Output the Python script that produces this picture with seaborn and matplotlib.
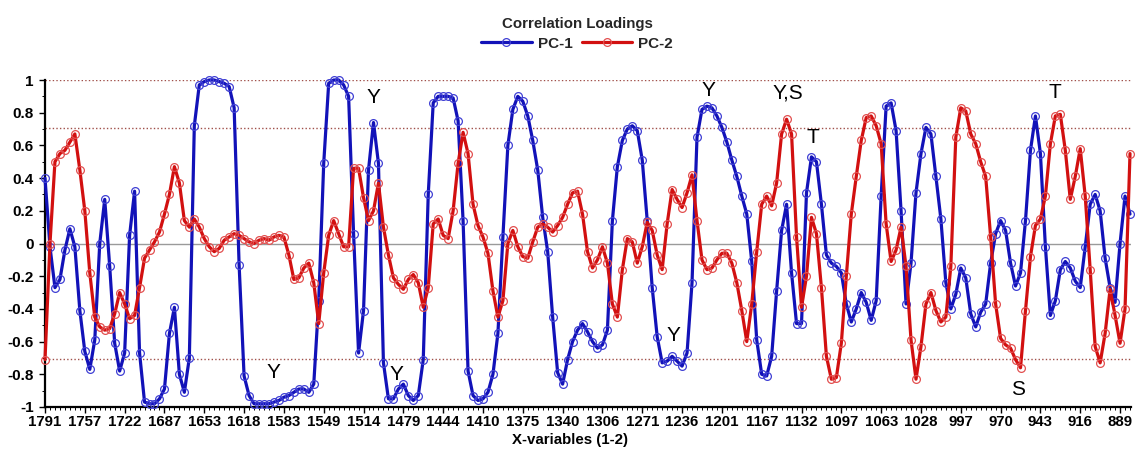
import numpy as np
import pandas as pd
import matplotlib
matplotlib.use("Agg")
import matplotlib.pyplot as plt
from matplotlib.ticker import MultipleLocator
import seaborn as sns

# ---------------- data ----------------
tick_labels = ["1791", "1757", "1722", "1687", "1653", "1618", "1583", "1549",
               "1514", "1479", "1444", "1410", "1375", "1340", "1306", "1271",
               "1236", "1201", "1167", "1132", "1097", "1063", "1028", "997",
               "970", "943", "916", "889"]
y_tick_values = [-1, -0.8, -0.6, -0.4, -0.2, 0, 0.2, 0.4, 0.6, 0.8, 1]
y_tick_labels = ["-1", "-0.8", "-0.6", "-0.4", "-0.2", "0", "0.2", "0.4", "0.6", "0.8", "1"]

pc1 = [0.40, -0.02, -0.27, -0.22, -0.04, 0.09, -0.02, -0.41, -0.66, -0.77,
       -0.59, 0.00, 0.27, -0.14, -0.61, -0.78, -0.67, 0.05, 0.32, -0.67,
       -0.97, -0.98, -0.98, -0.95, -0.89, -0.55, -0.39, -0.80, -0.91, -0.70,
       0.72, 0.97, 0.99, 1.00, 1.00, 0.99, 0.98, 0.96, 0.83, -0.13,
       -0.81, -0.93, -0.98, -0.98, -0.98, -0.98, -0.97, -0.96, -0.94, -0.93,
       -0.91, -0.89, -0.89, -0.91, -0.86, -0.35, 0.49, 0.98, 1.00, 1.00,
       0.97, 0.90, 0.06, -0.67, -0.41, 0.45, 0.74, 0.49, -0.73, -0.95,
       -0.95, -0.89, -0.86, -0.93, -0.96, -0.93, -0.71, 0.30, 0.86, 0.90,
       0.90, 0.90, 0.89, 0.75, 0.14, -0.78, -0.93, -0.96, -0.95, -0.91,
       -0.80, -0.55, 0.04, 0.60, 0.82, 0.90, 0.87, 0.78, 0.63, 0.45,
       0.16, -0.05, -0.45, -0.79, -0.86, -0.71, -0.60, -0.53, -0.49, -0.54,
       -0.60, -0.64, -0.62, -0.53, 0.14, 0.47, 0.63, 0.70, 0.72, 0.69,
       0.51, 0.14, -0.27, -0.57, -0.73, -0.72, -0.69, -0.72, -0.75, -0.67,
       -0.24, 0.65, 0.82, 0.84, 0.83, 0.78, 0.71, 0.62, 0.51, 0.41,
       0.29, 0.18, -0.11, -0.59, -0.80, -0.81, -0.69, -0.29, 0.08, 0.24,
       -0.18, -0.49, -0.49, 0.31, 0.53, 0.50, 0.24, -0.07, -0.12, -0.14,
       -0.18, -0.37, -0.48, -0.40, -0.30, -0.36, -0.47, -0.35, 0.29, 0.84,
       0.86, 0.69, 0.20, -0.37, -0.12, 0.31, 0.55, 0.71, 0.67, 0.41,
       0.15, -0.24, -0.40, -0.31, -0.15, -0.21, -0.43, -0.51, -0.42, -0.37,
       -0.12, 0.06, 0.14, 0.08, -0.12, -0.26, -0.18, 0.14, 0.57, 0.78,
       0.55, -0.02, -0.44, -0.35, -0.16, -0.11, -0.15, -0.23, -0.27, -0.02,
       0.24, 0.30, 0.20, -0.09, -0.27, -0.36, 0.00, 0.29, 0.18]

pc2 = [-0.71, 0.00, 0.50, 0.55, 0.57, 0.62, 0.67, 0.45, 0.20, -0.18,
       -0.45, -0.51, -0.53, -0.52, -0.43, -0.30, -0.37, -0.46, -0.44, -0.27,
       -0.09, -0.04, 0.01, 0.07, 0.18, 0.30, 0.47, 0.37, 0.14, 0.10,
       0.15, 0.10, 0.03, -0.02, -0.05, -0.03, 0.02, 0.04, 0.06, 0.05,
       0.03, 0.01, 0.00, 0.02, 0.03, 0.02, 0.04, 0.05, 0.04, -0.07,
       -0.22, -0.21, -0.15, -0.12, -0.24, -0.49, -0.18, 0.05, 0.14, 0.06,
       -0.02, -0.02, 0.46, 0.46, 0.28, 0.14, 0.20, 0.37, 0.10, -0.07,
       -0.21, -0.25, -0.28, -0.22, -0.19, -0.24, -0.39, -0.27, 0.12, 0.15,
       0.05, 0.03, 0.20, 0.49, 0.68, 0.55, 0.24, 0.11, 0.04, -0.06,
       -0.29, -0.45, -0.35, 0.00, 0.08, -0.02, -0.08, -0.09, 0.01, 0.10,
       0.12, 0.10, 0.07, 0.11, 0.16, 0.24, 0.31, 0.32, 0.18, -0.05,
       -0.15, -0.10, -0.02, -0.12, -0.37, -0.45, -0.16, 0.03, 0.01, -0.12,
       -0.02, 0.13, 0.08, -0.07, -0.16, 0.12, 0.33, 0.27, 0.22, 0.31,
       0.42, 0.14, -0.10, -0.16, -0.15, -0.10, -0.06, -0.06, -0.12, -0.24,
       -0.41, -0.60, -0.37, -0.05, 0.24, 0.29, 0.23, 0.37, 0.67, 0.76,
       0.67, 0.04, -0.39, -0.20, 0.16, 0.06, -0.27, -0.69, -0.83, -0.82,
       -0.61, -0.20, 0.18, 0.41, 0.63, 0.77, 0.78, 0.72, 0.61, 0.12,
       -0.11, -0.04, 0.10, -0.14, -0.59, -0.83, -0.63, -0.37, -0.30, -0.41,
       -0.48, -0.45, -0.14, 0.65, 0.83, 0.81, 0.67, 0.61, 0.50, 0.41,
       0.04, -0.37, -0.58, -0.62, -0.64, -0.71, -0.76, -0.41, -0.08, 0.11,
       0.15, 0.29, 0.61, 0.78, 0.79, 0.57, 0.27, 0.41, 0.58, 0.29,
       -0.16, -0.63, -0.73, -0.55, -0.28, -0.44, -0.61, -0.40, 0.55]

annot_text = ["Y", "Y", "Y", "Y", "Y", "Y,S", "T", "S", "T"]
annot_x = [65.9, 46.0, 70.6, 126.3, 133.4, 149.2, 154.2, 195.6, 202.9]
annot_y = [0.89, -0.79, -0.80, -0.56, 0.935, 0.92, 0.65, -0.89, 0.925]

# ---------------- style ----------------
sns.set_theme(style="ticks")
plt.rcParams["font.family"] = ["Liberation Sans", "DejaVu Sans"]

W, H = 1141, 450
fig = plt.figure(figsize=(W / 100, H / 100), dpi=100)
ax = fig.add_axes([45 / W, 1 - 407 / H, (1131 - 45) / W, 327 / H])

df = pd.DataFrame({"idx": np.arange(len(pc1)), "PC-1": pc1, "PC-2": pc2})

# reference lines
ax.axhline(0, color="#9a9a9a", lw=1.0, zorder=1)
for yv in [1.0, 0.707, -0.707, -1.0]:
    ax.axhline(yv, color="#a0504a", lw=1.0, ls=(0, (1, 1.6)), zorder=1)

sns.lineplot(data=df, x="idx", y="PC-1", ax=ax, color="#1212b8", lw=2.3,
             marker="o", ms=5.6, mfc="none", mec="#4040d4", mew=0.9,
             label="PC-1", clip_on=False, zorder=3)
sns.lineplot(data=df, x="idx", y="PC-2", ax=ax, color="#d21010", lw=2.3,
             marker="o", ms=5.6, mfc="none", mec="#e25050", mew=0.9,
             label="PC-2", clip_on=False, zorder=4)

for t, xv, yv in zip(annot_text, annot_x, annot_y):
    ax.text(xv, yv, t, fontsize=15, ha="center", va="center", color="black", zorder=6)

ax.set_xlim(0, 218.2)
ax.set_ylim(-1, 1)
ax.set_xticks(np.arange(0, 8 * len(tick_labels), 8))
ax.set_xticklabels(tick_labels, fontweight="bold", fontsize=10.8)
ax.xaxis.set_minor_locator(MultipleLocator(1))
ax.set_yticks(y_tick_values)
ax.set_yticklabels(y_tick_labels, fontweight="bold", fontsize=11)
ax.yaxis.set_minor_locator(MultipleLocator(0.1))
ax.tick_params(which="major", length=4, width=1, color="black", direction="out", pad=2,
               bottom=True, left=True, labelcolor="black")
ax.tick_params(which="minor", length=2.5, width=0.7, color="black", direction="out",
               bottom=True, left=True)
ax.tick_params(axis="y", which="major", pad=4)

for s in ["top", "right"]:
    ax.spines[s].set_visible(False)
for s in ["left", "bottom"]:
    ax.spines[s].set_color("black")
    ax.spines[s].set_linewidth(1.6)

ax.set_ylabel("")
ax.set_xlabel("X-variables (1-2)", fontweight="bold", fontsize=10.8, color="black")
ax.xaxis.set_label_coords((570 - 45) / (1131 - 45), -0.08)

leg = ax.legend(loc="upper center", bbox_to_anchor=(577 / W, 1 - 17 / H),
                bbox_transform=fig.transFigure, ncol=2, frameon=False,
                title="Correlation Loadings",
                prop={"weight": "bold", "size": 11},
                title_fontproperties={"weight": "bold", "size": 10.8},
                handlelength=3.3, columnspacing=0.6, handletextpad=0.4,
                labelspacing=0.2, borderpad=0, borderaxespad=0)
leg._legend_box.sep = 4

fig.savefig("out.png", dpi=100)
